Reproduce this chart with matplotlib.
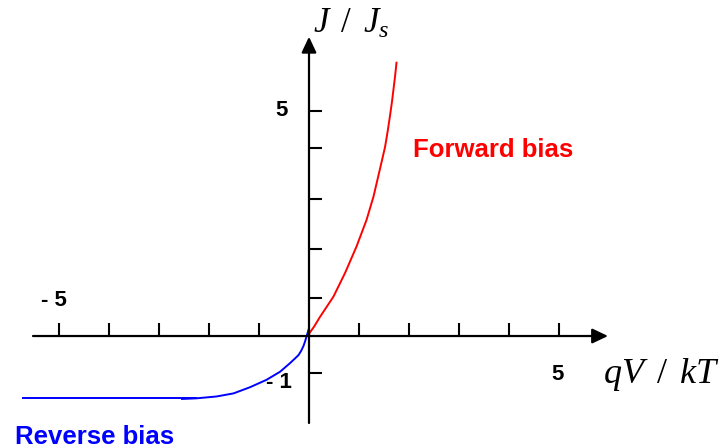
import numpy as np
import matplotlib
matplotlib.use("Agg")
import matplotlib.pyplot as plt

plt.rcParams["mathtext.fontset"] = "custom"
plt.rcParams["mathtext.it"] = "Liberation Serif:italic"
plt.rcParams["mathtext.rm"] = "Liberation Serif"

# forward branch (qV/kT, J/Js)
fwd_v = [0.0, 0.006, 0.10, 0.22, 0.49, 0.72, 0.95, 1.15, 1.29, 1.42, 1.52, 1.57, 1.62, 1.66, 1.69, 1.72, 1.75]
fwd_j = [0.0, 0.044, 0.15, 0.31, 0.64, 1.02, 1.45, 1.88, 2.26, 2.71, 3.06, 3.30, 3.57, 3.80, 4.00, 4.20, 4.43]

# reverse branch: saturated part and the knee towards the origin
sat_v = [-5.74, -2.24]
sat_j = [-1.0, -1.0]
rev_v = [-2.54, -2.25, -1.85, -1.51, -1.18, -0.85, -0.58, -0.38, -0.21, -0.15, -0.11, -0.08, -0.05, -0.01]
rev_j = [-1.02, -1.01, -0.98, -0.93, -0.83, -0.71, -0.58, -0.44, -0.31, -0.23, -0.16, -0.09, -0.01, 0.10]

# axis ticks
x_ticks = [-5, -4, -3, -2, -1, 1, 2, 3, 4, 5]
y_ticks = [-0.60, 0.62, 1.41, 2.22, 3.05, 3.65]

fig = plt.figure(figsize=(7.25, 4.48), dpi=100)
ax = fig.add_axes([0, 0, 1, 1])
ax.set_xlim(-6.18, 8.32)
ax.set_ylim(-1.815, 5.446)
ax.axis("off")

arrow = dict(arrowstyle="-|>,head_length=0.95,head_width=0.45", lw=1.6,
             color="black", mutation_scale=10, shrinkA=0, shrinkB=0)
ax.annotate("", xy=(5.98, 0), xytext=(-5.52, 0), arrowprops=arrow)
ax.annotate("", xy=(0, 4.85), xytext=(0, -1.41), arrowprops=arrow)

ax.vlines(x_ticks, 0, 0.21, color="black", lw=1.5)
ax.hlines(y_ticks, 0, 0.26, color="black", lw=1.5)

ax.plot(sat_v, sat_j, color="blue", lw=1.4, solid_capstyle="butt")
ax.plot(rev_v, rev_j, color="blue", lw=1.4)
ax.plot(fwd_v, fwd_j, color="red", lw=1.4)

bold = dict(family="Liberation Sans", fontweight="bold", fontsize=16)
ax.text(-0.55, 3.66, "5", ha="center", va="center", **bold)
ax.text(-0.60, -0.75, "- 1", ha="center", va="center", **bold)
ax.text(-5.10, 0.58, "- 5", ha="center", va="center", **bold)
ax.text(4.97, -0.63, "5", ha="center", va="center", **bold)

ax.text(2.08, 3.01, "Forward bias", color="red", ha="left", va="center",
        family="Liberation Sans", fontweight="bold", fontsize=18.5)
ax.text(-5.88, -1.63, "Reverse bias", color="blue", ha="left", va="center",
        family="Liberation Sans", fontweight="bold", fontsize=18.5)

ax.text(0.08, 4.91, r"$J\ \,/\ \,J_s$", ha="left", va="baseline", fontsize=25)
ax.text(5.88, -0.76, r"$qV\ \,/\ \,kT$", ha="left", va="baseline", fontsize=26)

fig.savefig("out.png", dpi=100)
